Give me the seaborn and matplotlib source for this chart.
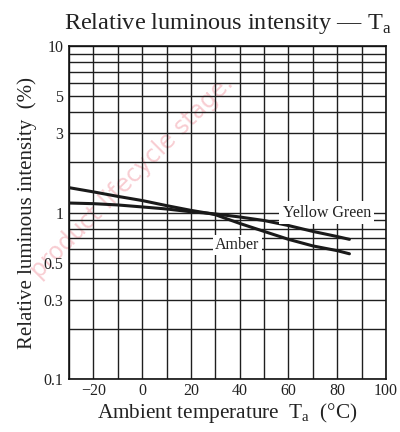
import numpy as np
import pandas as pd
import seaborn as sns
import matplotlib
matplotlib.use("Agg")
import matplotlib.pyplot as plt
from matplotlib.ticker import FixedLocator, LogLocator, MultipleLocator, NullFormatter

# values (log y axis)
temps = [-30, -20, -10, 0, 10, 20, 27, 30, 40, 50, 60, 70, 80, 85]
amber = [1.41, 1.33, 1.25, 1.18, 1.10, 1.03, 0.99, 0.97, 0.86, 0.77, 0.69, 0.63, 0.59, 0.565]
yellow_green = [1.14, 1.13, 1.11, 1.08, 1.05, 1.01, 0.99, 0.98, 0.94, 0.895, 0.835, 0.77, 0.717, 0.69]

y_ticks = [0.1, 0.3, 0.5, 1, 3, 5, 10]
y_tick_labels = ["0.1", "0.3", "0.5", "1", "3", "5", "10"]
x_ticks = [-20, 0, 20, 40, 60, 80, 100]

df = pd.DataFrame({
    "temp": temps * 2,
    "value": amber + yellow_green,
    "series": ["Amber"] * len(temps) + ["Yellow Green"] * len(temps),
})

sns.set_theme(style="white")
plt.rcParams["font.family"] = ["Liberation Serif", "DejaVu Serif"]
plt.rcParams["mathtext.fontset"] = "custom"
plt.rcParams["mathtext.rm"] = "Liberation Serif"

fig = plt.figure(figsize=(4, 4.32), dpi=100)
ax = fig.add_axes([0.1725, 0.1227, 0.7925, 0.7708])
ax.patch.set_alpha(0)

# faint watermark behind the grid
fig.text(0.33, 0.59, "product lifecycle stage.", rotation=45, ha="center", va="center",
         fontsize=17, color="#f8cdd2", family="DejaVu Sans", zorder=-1)

sns.lineplot(data=df, x="temp", y="value", hue="series",
             palette={"Amber": "#1a1a1a", "Yellow Green": "#1a1a1a"},
             linewidth=2.2, legend=False, ax=ax, zorder=3)

ax.set_yscale("log")
ax.set_xlim(-30, 100)
ax.set_ylim(0.1, 10)

ax.yaxis.set_major_locator(FixedLocator(y_ticks))
ax.set_yticklabels(y_tick_labels)
ax.yaxis.set_minor_locator(LogLocator(base=10, subs=range(2, 10)))
ax.yaxis.set_minor_formatter(NullFormatter())
ax.set_xticks(x_ticks)
ax.xaxis.set_minor_locator(MultipleLocator(10))

ax.grid(which="both", color="#1f1f1f", linewidth=1.0)
ax.tick_params(which="both", length=0, labelsize=11.5, colors="#222222")
ax.tick_params(axis="x", pad=3)
ax.tick_params(axis="y", pad=4)
for s in ax.spines.values():
    s.set_color("#111111")
    s.set_linewidth(1.2)

ax.text(75.7, 1.0, "Yellow Green", ha="center", va="center", fontsize=11.5, color="#222222",
        bbox=dict(facecolor="white", edgecolor="none", pad=2.5), zorder=4)
ax.text(39, 0.64, "Amber", ha="center", va="center", fontsize=11.5, color="#222222",
        bbox=dict(facecolor="white", edgecolor="none", pad=1.5), zorder=4)

ax.set_title(r"Relative luminous intensity — T$_\mathrm{a}$", fontsize=17.5, pad=12, color="#222222")
ax.set_xlabel(r"Ambient temperature  T$_\mathrm{a}$  (°C)", fontsize=15.3, labelpad=1, color="#222222")
ax.set_ylabel("Relative luminous intensity  (%)", fontsize=15, labelpad=5, color="#222222")

fig.savefig("out.png", dpi=100)
